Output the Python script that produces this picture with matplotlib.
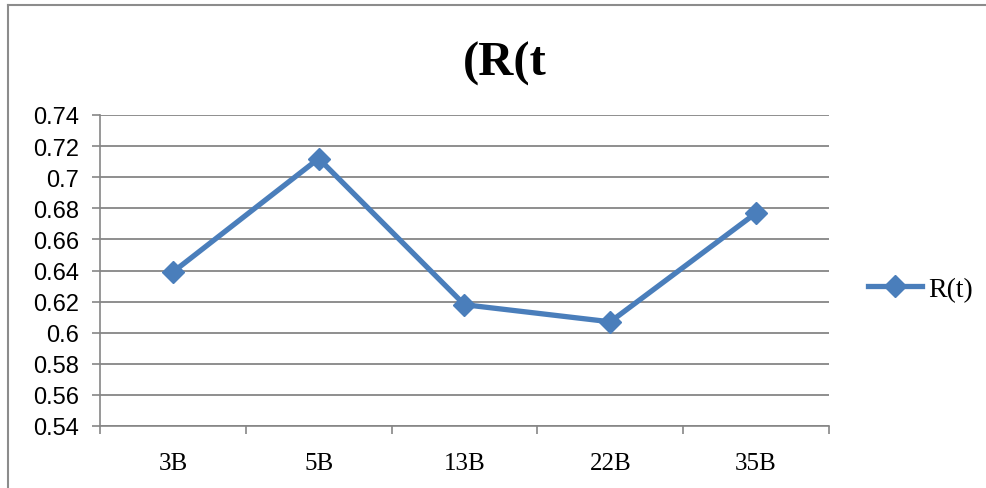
import matplotlib.pyplot as plt
import numpy as np
from matplotlib.lines import Line2D
from matplotlib.ticker import FixedLocator, FuncFormatter

# data
categories = ["3B", "5B", "13B", "22B", "35B"]
r_values = [0.639, 0.712, 0.618, 0.607, 0.677]
y_ticks = [0.54, 0.56, 0.58, 0.60, 0.62, 0.64, 0.66, 0.68, 0.70, 0.72, 0.74]

fig = plt.figure(figsize=(9.87, 4.89), dpi=100)
ax = fig.add_axes([100 / 987, 1 - 427 / 489, 729 / 987, 311 / 489])

x = np.arange(len(categories))
ax.plot(x, r_values, color="#4a7ebb", linewidth=3.8, marker="D",
        markersize=11, label="R(t)")

ax.set_xlim(-0.5, len(categories) - 0.5)
ax.set_ylim(y_ticks[0], y_ticks[-1])

grey = "#868686"
ax.set_yticks(y_ticks)
ax.yaxis.set_major_formatter(FuncFormatter(lambda v, p: "%g" % round(v, 2)))
ax.grid(axis="y", color=grey, linewidth=1.3)
ax.set_axisbelow(True)

ax.set_xticks(x)
ax.set_xticklabels(categories)
ax.xaxis.set_minor_locator(FixedLocator(np.arange(-0.5, len(categories), 1.0)))
ax.tick_params(axis="x", which="major", length=0, pad=19,
               labelsize=18, labelfontfamily="Liberation Serif")
ax.tick_params(axis="x", which="minor", length=6, color=grey, width=1.2)
ax.tick_params(axis="y", length=6, color=grey, width=1.2, pad=9,
               labelsize=17, labelfontfamily="Liberation Sans")

for side in ["top", "right"]:
    ax.spines[side].set_visible(False)
ax.spines["left"].set_color(grey)
ax.spines["bottom"].set_color(grey)
ax.spines["left"].set_linewidth(1.2)
ax.spines["bottom"].set_linewidth(1.2)

fig.text(505 / 987, 1 - 64 / 489, "(R(t", ha="center", va="center",
         fontfamily="Liberation Serif", fontweight="bold", fontsize=35)

leg = ax.legend(loc="center left", bbox_to_anchor=(1.0535, 0.44), frameon=False,
                prop={"family": "Liberation Serif", "size": 20},
                handlelength=1.95, handletextpad=0.2,
                borderpad=0, borderaxespad=0)

# outer chart border (left and top edges visible)
bx = 8 / 987
by = 1 - 6 / 489
fig.add_artist(Line2D([bx, bx], [0, by], transform=fig.transFigure, color="#8c8c8c", linewidth=1.5))
fig.add_artist(Line2D([bx, 1.01], [by, by], transform=fig.transFigure, color="#8c8c8c", linewidth=1.5))

fig.savefig("out.png", dpi=100)
